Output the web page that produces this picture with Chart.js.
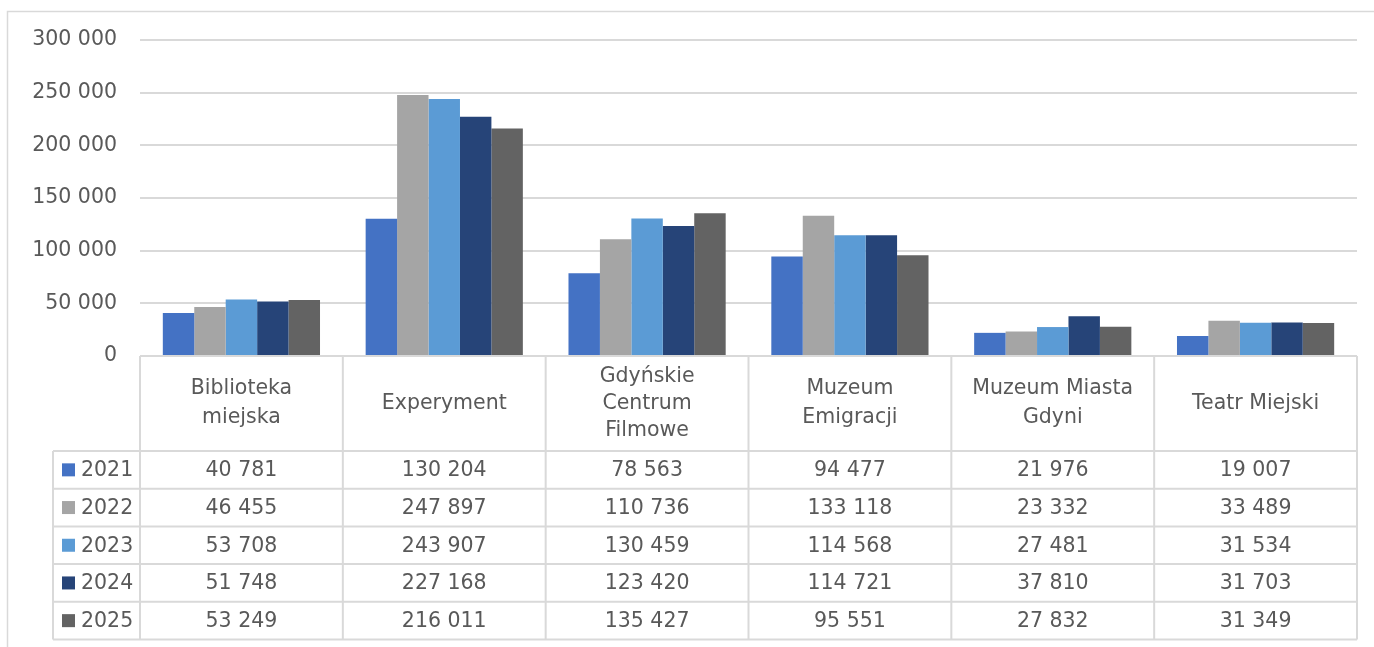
<!DOCTYPE html>
<html>
<head>
<meta charset="utf-8">
<script src="https://cdn.jsdelivr.net/npm/chart.js@4"></script>
<style>
  body { margin: 0; background: #fff; }
  canvas { display: block; }
</style>
</head>
<body>
<canvas id="visitorsChart" width="1374" height="647"></canvas>
<script>
const categories = [
  ['Biblioteka', 'miejska'],
  ['Experyment'],
  ['Gdyńskie', 'Centrum', 'Filmowe'],
  ['Muzeum', 'Emigracji'],
  ['Muzeum Miasta', 'Gdyni'],
  ['Teatr Miejski']
];
const years = ['2021', '2022', '2023', '2024', '2025'];
const v2021 = [40781, 130204, 78563, 94477, 21976, 19007];
const v2022 = [46455, 247897, 110736, 133118, 23332, 33489];
const v2023 = [53708, 243907, 130459, 114568, 27481, 31534];
const v2024 = [51748, 227168, 123420, 114721, 37810, 31703];
const v2025 = [53249, 216011, 135427, 95551, 27832, 31349];
const colors = ['#4472C4', '#A5A5A5', '#5B9BD5', '#264478', '#636363'];

const series = [v2021, v2022, v2023, v2024, v2025];
const FONT = '"DejaVu Sans", sans-serif';
const TEXT = '#595959';
const LINE = '#d9d9d9';

function fmt(n) {
  return String(n).replace(/\B(?=(\d{3})+(?!\d))/g, ' ');
}

// draws the data table under the plot, using the x scale for the columns
const dataTable = {
  id: 'dataTable',
  afterDraw(chart) {
    const ctx = chart.ctx;
    const x = chart.scales.x;
    const area = chart.chartArea;
    const colW = (x.right - x.left) / categories.length;
    const headTop = area.bottom;
    const headBottom = 451;
    const rowH = 37.7;
    const legendLeft = 53;
    const tableBottom = headBottom + rowH * years.length;

    ctx.save();
    // outer frame
    ctx.strokeStyle = LINE;
    ctx.lineWidth = 1.5;
    ctx.strokeRect(7.5, 11.5, 1500, 800);

    ctx.lineWidth = 2;
    ctx.beginPath();
    ctx.moveTo(x.left, headTop); ctx.lineTo(x.right, headTop);
    for (let r = 0; r <= years.length; r++) {
      const y = headBottom + r * rowH;
      ctx.moveTo(legendLeft, y); ctx.lineTo(x.right, y);
    }
    ctx.moveTo(legendLeft, headBottom); ctx.lineTo(legendLeft, tableBottom);
    for (let i = 0; i <= categories.length; i++) {
      const cx = x.left + i * colW;
      ctx.moveTo(cx, headTop); ctx.lineTo(cx, tableBottom);
    }
    ctx.stroke();

    ctx.fillStyle = TEXT;
    ctx.font = '20.5px ' + FONT;
    ctx.textAlign = 'center';
    ctx.textBaseline = 'middle';
    categories.forEach((lines, i) => {
      const cx = x.getPixelForValue(i);
      const lh = lines.length > 2 ? 27 : 29;
      const mid = (headTop + headBottom) / 2;
      lines.forEach((t, k) => {
        ctx.fillText(t, cx, mid + (k - (lines.length - 1) / 2) * lh);
      });
    });

    years.forEach((yr, r) => {
      const cy = headBottom + r * rowH + rowH / 2;
      ctx.fillStyle = colors[r];
      ctx.fillRect(62, cy - 6.5, 13, 13);
      ctx.fillStyle = TEXT;
      ctx.textAlign = 'left';
      ctx.fillText(yr, 81, cy + 1);
      ctx.textAlign = 'center';
      series[r].forEach((v, i) => {
        ctx.fillText(fmt(v), x.getPixelForValue(i), cy + 1);
      });
    });
    ctx.restore();
  }
};

new Chart(document.getElementById('visitorsChart'), {
  type: 'bar',
  data: {
    labels: categories.map(c => c.join(' ')),
    datasets: years.map((yr, i) => ({
      label: yr,
      data: series[i],
      backgroundColor: colors[i],
      categoryPercentage: 0.775,
      barPercentage: 1
    }))
  },
  options: {
    responsive: false,
    animation: false,
    devicePixelRatio: 1,
    layout: { padding: { top: 40, right: 17, bottom: 291, left: 0 } },
    plugins: { legend: { display: false }, tooltip: { enabled: false } },
    scales: {
      x: { display: false },
      y: {
        min: 0,
        max: 300000,
        afterFit(scale) { scale.width = 140; },
        border: { display: false },
        grid: { color: LINE, lineWidth: 2, drawTicks: false },
        ticks: {
          stepSize: 50000,
          padding: 23,
          color: TEXT,
          font: { family: FONT, size: 20.5 },
          callback: v => fmt(v)
        }
      }
    }
  },
  plugins: [dataTable]
});
</script>
</body>
</html>
